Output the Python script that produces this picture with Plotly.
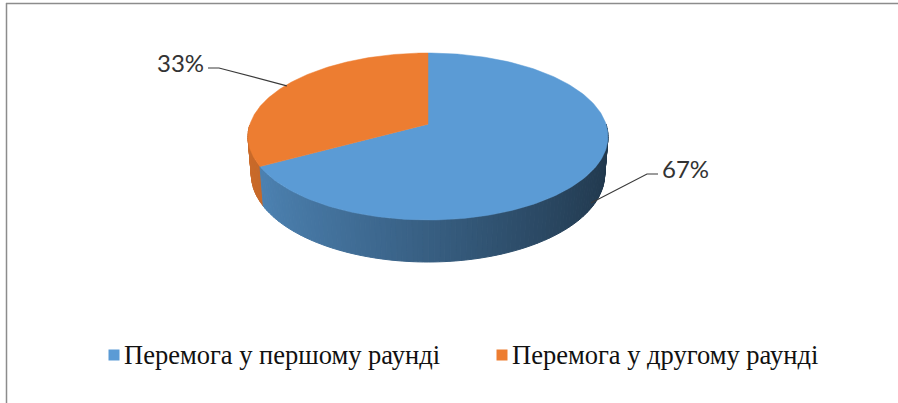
import numpy as np
import plotly.graph_objects as go

categories = ["Перемога у першому раунді", "Перемога у другому раунді"]
values = [67, 33]
top_colors = ["#5b9bd5", "#ed7d31"]
label_texts = [f"{v}%" for v in values]

W, H = 898, 403

# projected bounds of the pie (pixels)
CX, TOP_Y, FRONT_Y, HALF_W, BOTTOM_Y = 428, 53, 220, 180, 262
D = 6.0  # camera distance, in pie radii

# solve tilt / scale so the projected top face fits the bounds
k = (FRONT_Y - TOP_Y) / (2 * HALF_W)
s = k * np.sqrt((D**2 - 1) / (D**2 - k**2))
c = np.sqrt(1 - s**2)
F = HALF_W * np.sqrt(D**2 - c**2)
y0 = TOP_Y + F * s / (D + c)
Yb = (BOTTOM_Y - y0) / F
h = (Yb * (D - c) - s) / (c - Yb * s)


def proj(phi_deg, z=0.0, r=1.0):
    p = np.radians(phi_deg)
    cp, sp = r * np.cos(p), r * np.sin(p)
    d = D + c * sp - z * s
    return CX + F * cp / d, y0 - F * (sp * s + z * c) / d


def hex_rgb(hx):
    hx = hx.lstrip("#")
    return [int(hx[i:i + 2], 16) for i in (0, 2, 4)]


def shade(hx, f):
    r, g, b = [max(0, min(255, int(round(v * f)))) for v in hex_rgb(hx)]
    return f"rgb({r},{g},{b})"


total = sum(values)
bounds = np.cumsum([0] + values) / total * 360
# slices run clockwise from 12 o'clock: (start, end) with end < start
slices = [(90 - bounds[i], 90 - bounds[i + 1]) for i in range(len(values))]

fig = go.Figure()

# side wall strips, painted far to near
strips = []
step = 1.5
for i, (a0, a1) in enumerate(slices):
    n = max(2, int(np.ceil((a0 - a1) / step)))
    angs = np.linspace(a1, a0, n + 1)
    for a, b in zip(angs[:-1], angs[1:]):
        m = 0.5 * (a + b)
        if np.sin(np.radians(m)) >= 0:
            continue
        depth = D + c * np.sin(np.radians(m))
        f = 0.61 - 0.254 * np.cos(np.radians(m))
        strips.append((depth, i, a, b, shade(top_colors[i], f)))
strips.sort(key=lambda t: -t[0])
for depth, i, a, b, col in strips:
    arc = np.linspace(a, b, 4)
    xt, yt = proj(arc, 0.0)
    xb, yb = proj(arc[::-1], -h)
    xs = np.concatenate([xt, xb, xt[:1]])
    ys = np.concatenate([yt, yb, yt[:1]])
    fig.add_trace(go.Scatter(x=xs, y=ys, mode="lines", fill="toself",
                             fillcolor=col, line=dict(color=col, width=1),
                             hoverinfo="skip", showlegend=False))

# top faces
cx0, cy0 = proj(0.0, 0.0, 0.0)
for i, (a0, a1) in enumerate(slices):
    arc = np.linspace(a0, a1, 200)
    xa, ya = proj(arc, 0.0)
    xs = np.concatenate([[cx0], xa, [cx0]])
    ys = np.concatenate([[cy0], ya, [cy0]])
    fig.add_trace(go.Scatter(x=xs, y=ys, mode="lines", fill="toself",
                             fillcolor=top_colors[i],
                             line=dict(color=top_colors[i], width=0.5),
                             hoverinfo="skip", showlegend=False))

# data labels with leader lines
label_pos = [(660, 168, "left"), (206, 62, "right")]
for i, (a0, a1) in enumerate(slices):
    m = 0.5 * (a0 + a1)
    if np.sin(np.radians(m)) < 0:
        ax, ay = proj(m, -0.85 * h)
    else:
        ax, ay = proj(m, 0.0, 0.99)
    lx, ly, side = label_pos[i]
    sgn = -1 if side == "left" else 1
    ex = lx + sgn * 2
    kx = lx + sgn * 13
    yy = ly + 6
    fig.add_trace(go.Scatter(x=[ax, kx, ex], y=[ay, yy, yy], mode="lines",
                             line=dict(color="#3a3a3a", width=1.2),
                             hoverinfo="skip", showlegend=False))
    fig.add_annotation(x=lx, y=ly, text=label_texts[i], showarrow=False,
                       xanchor=side, yanchor="middle",
                       font=dict(family="Lato", size=24, color="#333333"))

# legend
leg_x = [114, 502]
leg_y = 355
fig.add_trace(go.Scatter(x=leg_x, y=[leg_y] * 2, mode="markers",
                         marker=dict(symbol="square", size=11, color=top_colors,
                                     line=dict(width=0)),
                         hoverinfo="skip", showlegend=False))
for i, name in enumerate(categories):
    fig.add_annotation(x=leg_x[i] + 8, y=leg_y, text=name, showarrow=False,
                       xanchor="left", yanchor="middle",
                       font=dict(family="Liberation Serif", size=26.5, color="#111111"))

# frame
fig.add_shape(type="line", x0=6, x1=W, y0=3.5, y1=3.5,
              line=dict(color="#8c8c8c", width=1.5))
fig.add_shape(type="line", x0=6.5, x1=6.5, y0=3, y1=H,
              line=dict(color="#8c8c8c", width=1.5))

fig.update_layout(
    width=W, height=H,
    margin=dict(l=0, r=0, t=0, b=0),
    paper_bgcolor="white", plot_bgcolor="white",
    xaxis=dict(range=[0, W], visible=False, fixedrange=True),
    yaxis=dict(range=[H, 0], visible=False, fixedrange=True),
    showlegend=False,
)

fig.write_html("out.html")
